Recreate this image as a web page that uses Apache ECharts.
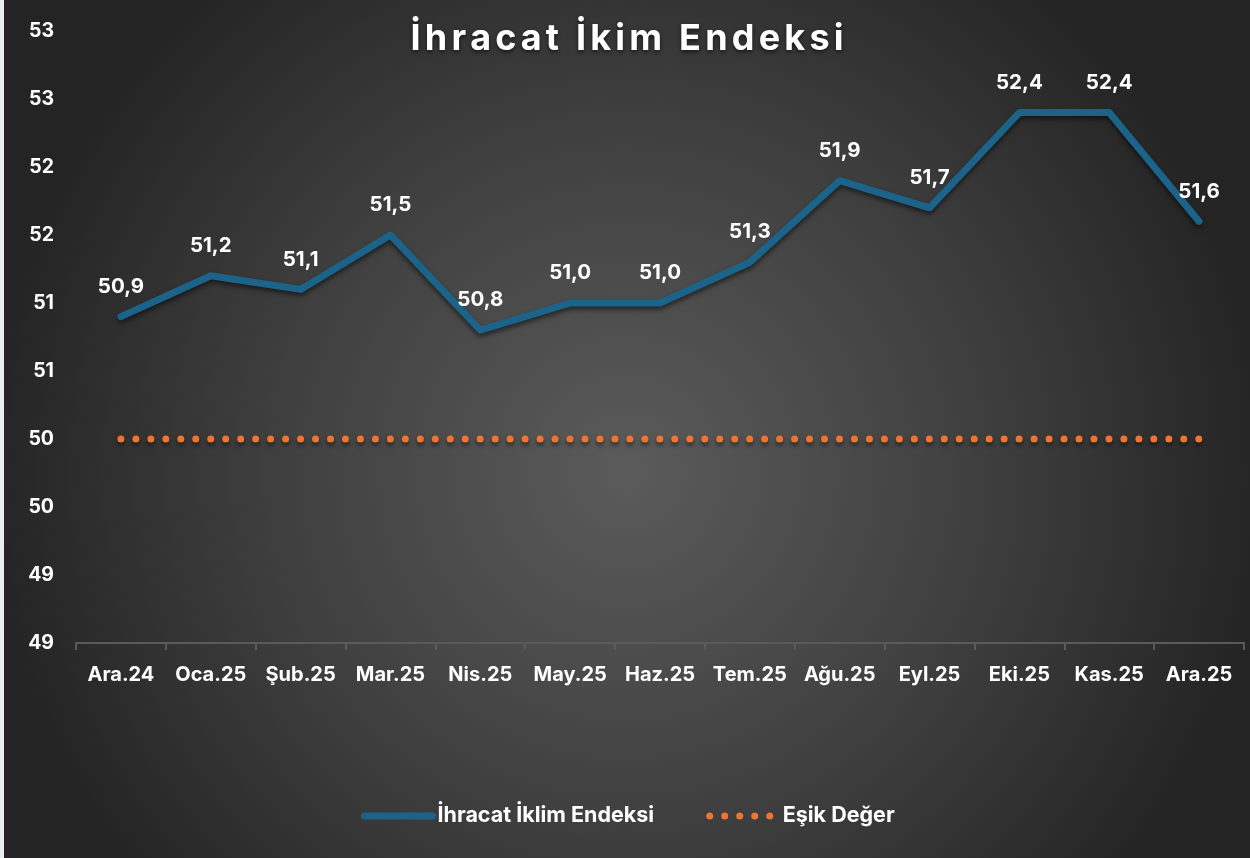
<!DOCTYPE html>
<html lang="tr">
<head>
    <meta charset="UTF-8">
    <script src="https://cdn.jsdelivr.net/npm/echarts@6/dist/echarts.min.js"></script>
    <title>İhracat İklim Endeksi</title>
    <style>
        html, body { margin: 0; padding: 0; background: #e9eff0; }
        #chart { position: absolute; left: 4px; top: 0; width: 1246px; height: 858px; }
    </style>
</head>
<body>
<div id="chart"></div>
<script type="text/javascript">
    // aylar
    var months = ['Ara.24', 'Oca.25', 'Şub.25', 'Mar.25', 'Nis.25', 'May.25', 'Haz.25',
        'Tem.25', 'Ağu.25', 'Eyl.25', 'Eki.25', 'Kas.25', 'Ara.25'];
    // endeks değerleri
    var indexValues = [50.9, 51.2, 51.1, 51.5, 50.8, 51.0, 51.0, 51.3, 51.9, 51.7, 52.4, 52.4, 51.6];
    // eşik değer
    var thresholdValues = [50, 50, 50, 50, 50, 50, 50, 50, 50, 50, 50, 50, 50];

    var titleText = 'İhracat İkim Endeksi';
    var fontFam = 'Inter, "Noto Sans", sans-serif';

    // harf aralığı için her karakter ayrı rich parça
    var spaced = titleText.split('').map(function (ch) { return '{c|' + ch + '}'; }).join('');

    var chart = echarts.init(document.getElementById('chart'), null, {renderer: 'canvas'});
    chart.setOption({
        backgroundColor: {
            type: 'radial', x: 0.5, y: 0.55, r: 0.75,
            colorStops: [
                {offset: 0, color: '#5b5b5b'},
                {offset: 0.55, color: '#3f3f3f'},
                {offset: 1, color: '#242424'}
            ]
        },
        title: {
            text: spaced,
            left: 'center',
            top: 16,
            textStyle: {
                color: '#fff',
                fontFamily: fontFam,
                fontWeight: 'bold',
                fontSize: 36,
                rich: {
                    c: {
                        color: '#fff',
                        fontFamily: fontFam,
                        fontWeight: 'bold',
                        fontSize: 36,
                        padding: [0, 2.1],
                        textShadowColor: 'rgba(0,0,0,0.6)',
                        textShadowBlur: 4,
                        textShadowOffsetY: 2
                    }
                }
            }
        },
        legend: {
            bottom: 26,
            left: 352,
            itemWidth: 68,
            itemHeight: 14,
            itemGap: 52,
            itemStyle: {opacity: 0},
            textStyle: {color: '#fff', fontFamily: fontFam, fontWeight: 'bold', fontSize: 21.5},
            data: [
                {name: 'İhracat İklim Endeksi', lineStyle: {width: 7, color: '#1b6388', cap: 'round'}},
                {name: 'Eşik Değer', lineStyle: {width: 7, color: '#ee7432', type: [0.01, 15], cap: 'round'}}
            ]
        },
        grid: {left: 72, right: 6, top: 31, bottom: 215, containLabel: false},
        xAxis: {
            type: 'category',
            data: months,
            boundaryGap: true,
            axisLine: {lineStyle: {color: '#5a5a5a', width: 2}},
            axisTick: {show: true, length: 7, lineStyle: {color: '#5a5a5a', width: 2}},
            axisLabel: {interval: 0, color: '#fff', fontFamily: fontFam, fontWeight: 'bold', fontSize: 20, margin: 22}
        },
        yAxis: {
            type: 'value',
            min: 48.5,
            max: 53,
            interval: 0.5,
            splitLine: {show: false},
            axisLine: {show: false},
            axisTick: {show: false},
            axisLabel: {
                color: '#fff', fontFamily: fontFam, fontWeight: 'bold', fontSize: 19.5, margin: 22,
                formatter: function (v) { return String(Math.round(v)); }
            }
        },
        series: [
            {
                name: 'İhracat İklim Endeksi',
                type: 'line',
                data: indexValues,
                symbol: 'circle',
                symbolSize: 1,
                showSymbol: true,
                color: '#1b6388',
                lineStyle: {
                    width: 7, color: '#1b6388', cap: 'round', join: 'round',
                    shadowColor: 'rgba(0,0,0,0.55)', shadowBlur: 5, shadowOffsetY: 3
                },
                label: {
                    show: true, position: 'top', distance: 19,
                    color: '#fff', fontFamily: fontFam, fontWeight: 'bold', fontSize: 20.5,
                    formatter: function (p) { return p.value.toFixed(1).replace('.', ','); }
                },
                z: 3
            },
            {
                name: 'Eşik Değer',
                type: 'line',
                data: thresholdValues,
                symbol: 'none',
                color: '#ee7432',
                lineStyle: {
                    width: 7, color: '#ee7432', type: [0.01, 14.96], cap: 'round',
                    shadowColor: 'rgba(0,0,0,0.5)', shadowBlur: 4, shadowOffsetY: 3
                },
                z: 2
            }
        ]
    });
</script>
</body>
</html>
